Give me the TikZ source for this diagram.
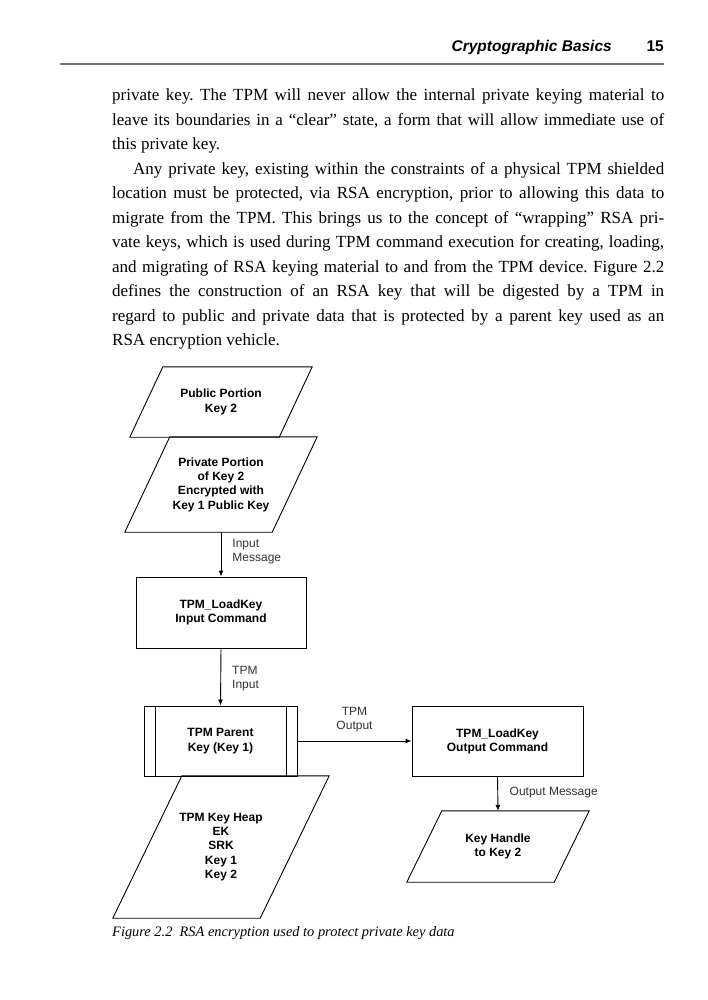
\documentclass[tikz,border=0pt]{standalone}
\usepackage{fontspec}
\setmainfont{Liberation Serif}
\setsansfont{Liberation Sans}
\usetikzlibrary{arrows.meta}

\begin{document}
\begin{tikzpicture}[x=1pt, y=-1pt,
    every node/.style={inner sep=0pt},
    cmdbox/.style={draw, line width=0.9pt, minimum width=170pt, minimum height=71pt, align=center,
        font=\sffamily\bfseries\fontsize{12}{14.5}\selectfont},
    databox/.style={align=center, font=\sffamily\bfseries\fontsize{12}{14.3}\selectfont,
        append after command={\pgfextra{\draw[line width=0.9pt]
            ([xshift=#1]\tikzlastnode.north west) -- (\tikzlastnode.north east)
            -- ([xshift=-#1]\tikzlastnode.south east) -- (\tikzlastnode.south west) -- cycle;}}},
    msg/.style={font=\sffamily\fontsize{12}{14}\selectfont, text=black!80, align=left},
    flow/.style={-{Latex[length=6pt,width=5pt]}, line width=0.9pt}]
	\useasboundingbox (0,0) rectangle (707,1000);
	% running head
	\node[anchor=base east, font=\sffamily\bfseries\itshape\fontsize{15.5}{18}\selectfont] (runhead) at (612,52) {Cryptographic Basics};
	\node[anchor=base east, font=\sffamily\bfseries\fontsize{15.5}{18}\selectfont] (folio) at (664,52) {15};
	\draw[line width=1.2pt, black!55] (60,64) -- (664,64);
	% text
	\node[anchor=base west, text width=552pt, align=justify, font=\fontsize{17}{24.5}\selectfont] (body) at (112,101) {\tolerance=10000\hbadness=10000\hyphenpenalty=10000\frenchspacing
	private key. The TPM will never allow the internal private keying material to\linebreak
	leave its boundaries in a “clear” state, a form that will allow immediate use of\linebreak
	this private key.\par
	\hspace*{21pt}Any private key, existing within the constraints of a physical TPM shielded\linebreak
	location must be protected, via RSA encryption, prior to allowing this data to\linebreak
	migrate from the TPM. This brings us to the concept of “wrapping” RSA pri-\linebreak
	vate keys, which is used during TPM command execution for creating, loading,\linebreak
	and migrating of RSA keying material to and from the TPM device. Figure 2.2\linebreak
	defines the construction of an RSA key that will be digested by a TPM in\linebreak
	regard to public and private data that is protected by a parent key used as an\linebreak
	RSA encryption vehicle.};
	% figure
	\node[databox=33pt, minimum width=182pt, minimum height=70pt] (pubkey) at (221,402) {Public Portion\\Key 2};
	\node[databox=45pt, minimum width=192pt, minimum height=95pt] (privkey) at (221,484.5) {Private Portion\\of Key 2\\Encrypted with\\Key 1 Public Key};
	\node[cmdbox] (loadin) at (221,612.5) {TPM\_LoadKey\\Input Command};
	\node[cmdbox, minimum width=153pt, minimum height=70pt] (parent) at (220.5,741) {TPM Parent\\Key (Key 1)};
	\draw[line width=0.9pt] ([xshift=12pt]parent.north west) -- ([xshift=12pt]parent.south west)
	    ([xshift=-11pt]parent.north east) -- ([xshift=-11pt]parent.south east);
	\node[databox=69pt, minimum width=216pt, minimum height=142pt] (heap) at (221,847) {TPM Key Heap\\EK\\SRK\\Key 1\\Key 2};
	\node[cmdbox, minimum width=171pt, minimum height=70pt] (loadout) at (497.5,741.5) {TPM\_LoadKey\\Output Command};
	\node[databox=35pt, minimum width=182pt, minimum height=71pt] (handle) at (498,846.5) {Key Handle\\to Key 2};
	\draw[flow] (privkey.south) -- (loadin.north) node[msg, midway, anchor=west, xshift=11pt, yshift=3pt] {Input\\Message};
	\draw[flow] (loadin.south) -- (parent.north) node[msg, midway, anchor=west, xshift=11pt, yshift=-2pt] {TPM\\Input};
	\draw[flow] (parent.east) -- (parent.east -| loadout.west) node[msg, align=center, midway, yshift=21pt] {TPM\\Output};
	\draw[flow] (loadout.south) -- (handle.north) node[msg, midway, anchor=west, xshift=11.5pt, yshift=1pt] {Output Message};
	% caption
	\node[anchor=base west, font=\itshape\fontsize{14.4}{17}\selectfont] (caption) at (112,936) {Figure 2.2\enspace RSA encryption used to protect private key data};
\end{tikzpicture}
\end{document}
